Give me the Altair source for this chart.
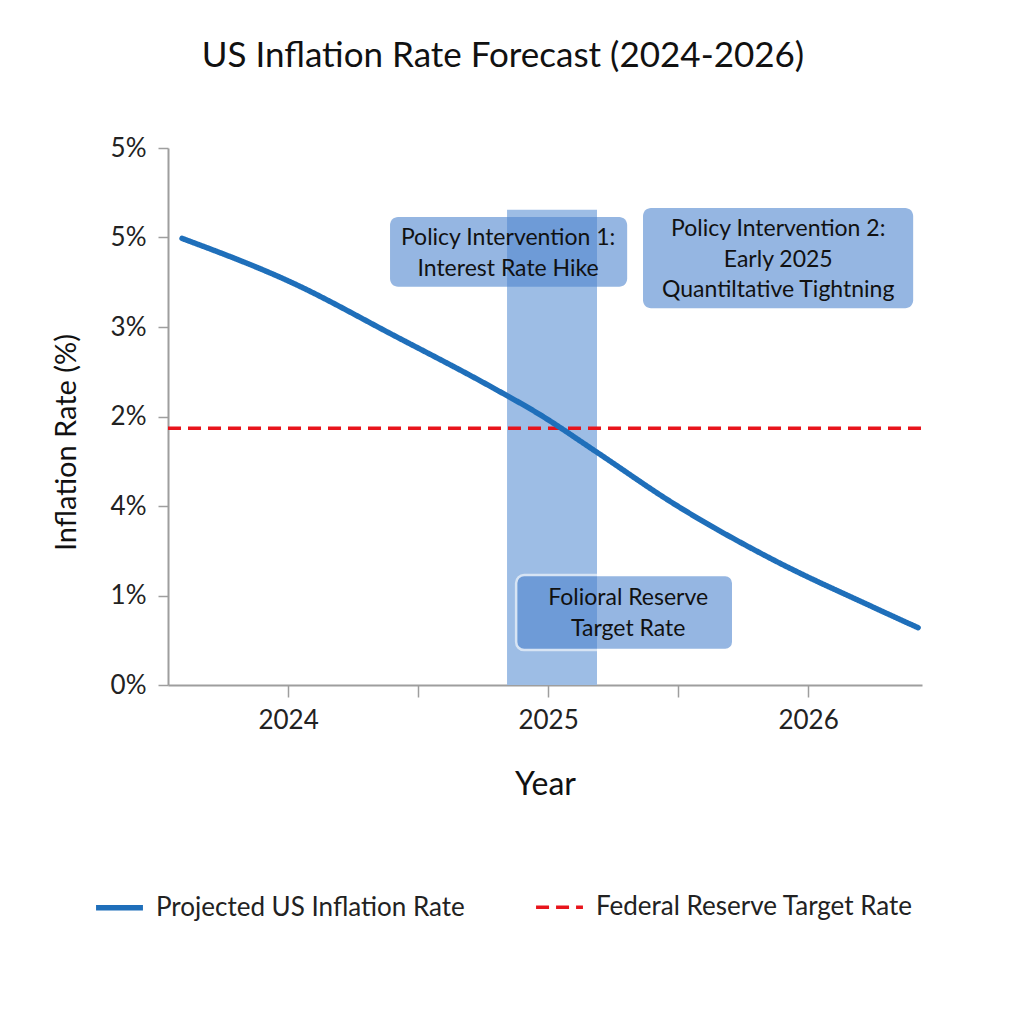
import altair as alt
import pandas as pd

# ---- data ----
years = [2023.592, 2024.019, 2024.404, 2024.788, 2024.969, 2025.188, 2025.481, 2025.865, 2026.25, 2026.423]
inflation = [4.99, 4.49, 3.91, 3.32, 3.02, 2.60, 2.03, 1.40, 0.87, 0.64]
target_rate = 2.87
x_domain = [2023.538, 2026.438]
y_domain = [0, 6]
y_tick_values = [0, 1, 2, 3, 4, 5, 6]
y_tick_labels = ["0%", "1%", "4%", "2%", "3%", "5%", "5%"]
x_tick_values = [2024, 2024.5, 2025, 2025.5, 2026]
series_names = ["Projected US Inflation Rate", "Federal Reserve Target Rate"]
series_colors = ["#1f6fba", "#e8141c"]

band_x = [2024.842]
band_x2 = [2025.188]
band_top = [5.31]

box_x = [2024.392, 2025.365, 2024.877]
box_x2 = [2025.304, 2026.404, 2025.712]
box_y = [5.23, 5.33, 1.23]
box_y2 = [4.45, 4.21, 0.39]
box_stroke = ["transparent", "transparent", "white"]

label_x = [2024.846, 2025.885, 2025.308]
label_y = [4.99, 5.09, 0.97]
label_text = [
    ["Policy Intervention 1:", "Interest Rate Hike"],
    ["Policy Intervention 2:", "Early 2025", "Quantiltative Tightning"],
    ["Folioral Reserve", "Target Rate"],
]

FONT = "Lato"

line_df = pd.DataFrame({"year": years, "rate": inflation, "series": series_names[0]})
target_df = pd.DataFrame({"x": [x_domain[0]], "x2": [x_domain[1]], "rate": [target_rate], "series": [series_names[1]]})
band_df = pd.DataFrame({"x": band_x, "x2": band_x2, "y": [0], "y2": band_top})
box_df = pd.DataFrame({"x": box_x, "x2": box_x2, "y": box_y, "y2": box_y2, "stroke": box_stroke})
label_df = pd.DataFrame({"x": label_x, "y": label_y, "text": label_text})

y_label_expr = "[" + ",".join("'%s'" % s for s in y_tick_labels) + "][datum.value]"

xs = alt.Scale(domain=x_domain, nice=False, zero=False)
ys = alt.Scale(domain=y_domain, nice=False, zero=True)

x_axis = alt.Axis(
    title="Year", values=x_tick_values,
    labelExpr="datum.value % 1 === 0 ? toString(datum.value) : ''",
    tickSize=12, labelPadding=10, grid=False,
    titleFontSize=32, titleFontWeight="normal", titleY=99, titleBaseline="middle",
)
y_axis = alt.Axis(
    title="Inflation Rate (%)", values=y_tick_values, labelExpr=y_label_expr,
    tickSize=10, labelPadding=12, grid=False,
    titleFontSize=29, titleFontWeight="normal", titleX=-102, titleY=294,
    titleAngle=270, titleBaseline="middle", titleAlign="center",
)

band = alt.Chart(band_df).mark_rect(color="#9dbde5").encode(
    x=alt.X("x:Q", scale=xs, axis=x_axis), x2="x2:Q",
    y=alt.Y("y:Q", scale=ys, axis=y_axis), y2="y2:Q",
)

boxes = alt.Chart(box_df).mark_rect(color="#4f86cf", opacity=0.6, cornerRadius=8, strokeWidth=2.5).encode(
    x=alt.X("x:Q", scale=xs), x2="x2:Q",
    y=alt.Y("y:Q", scale=ys), y2="y2:Q",
    stroke=alt.Stroke("stroke:N", scale=None),
)

color_scale = alt.Scale(domain=series_names, range=series_colors)
dash_scale = alt.Scale(domain=series_names, range=[[1, 0], [13, 7]])
width_scale = alt.Scale(domain=series_names, range=[5.5, 3.5])
legend = alt.Legend(
    title=None, orient="none", legendX=-75, legendY=733, direction="horizontal", columns=2,
    symbolType="stroke", symbolSize=2200, labelFontSize=26, labelFont=FONT, labelColor="#222",
    labelOffset=10, columnPadding=64, symbolStrokeWidth=5, labelLimit=0,
)

target = alt.Chart(target_df).mark_rule().encode(
    x=alt.X("x:Q", scale=xs), x2="x2:Q",
    y=alt.Y("rate:Q", scale=ys),
    color=alt.Color("series:N", scale=color_scale, legend=legend),
    strokeDash=alt.StrokeDash("series:N", scale=dash_scale, legend=legend),
    strokeWidth=alt.StrokeWidth("series:N", scale=width_scale, legend=legend),
)

line = alt.Chart(line_df).mark_line(interpolate="monotone", strokeCap="round").encode(
    x=alt.X("year:Q", scale=xs), y=alt.Y("rate:Q", scale=ys),
    color=alt.Color("series:N", scale=color_scale, legend=legend),
    strokeDash=alt.StrokeDash("series:N", scale=dash_scale, legend=legend),
    strokeWidth=alt.StrokeWidth("series:N", scale=width_scale, legend=legend),
)

labels = alt.Chart(label_df).mark_text(
    font=FONT, fontSize=23, color="#111", lineHeight=30.5, align="center", baseline="middle"
).encode(
    x=alt.X("x:Q", scale=xs), y=alt.Y("y:Q", scale=ys), text="text"
)

chart = alt.layer(band, boxes, target, line, labels).properties(
    width=754, height=537,
    autosize=alt.AutoSizeParams(type="none"),
    padding={"left": 168, "top": 148, "right": 102, "bottom": 339},
    title=alt.TitleParams(
        "US Inflation Rate Forecast (2024-2026)", font=FONT, fontSize=35, fontWeight="normal",
        color="#111", anchor="middle", frame="group", dx=-42, offset=44, baseline="middle",
    ),
    background="white",
).configure_view(stroke=None).configure_axis(
    labelFont=FONT, titleFont=FONT, labelFontSize=26, labelColor="#222", titleColor="#111",
    domainColor="#9e9e9e", tickColor="#9e9e9e", domainWidth=2, tickWidth=1.5,
)

chart.save("out.html", embed_options={"renderer": "svg", "actions": False})
